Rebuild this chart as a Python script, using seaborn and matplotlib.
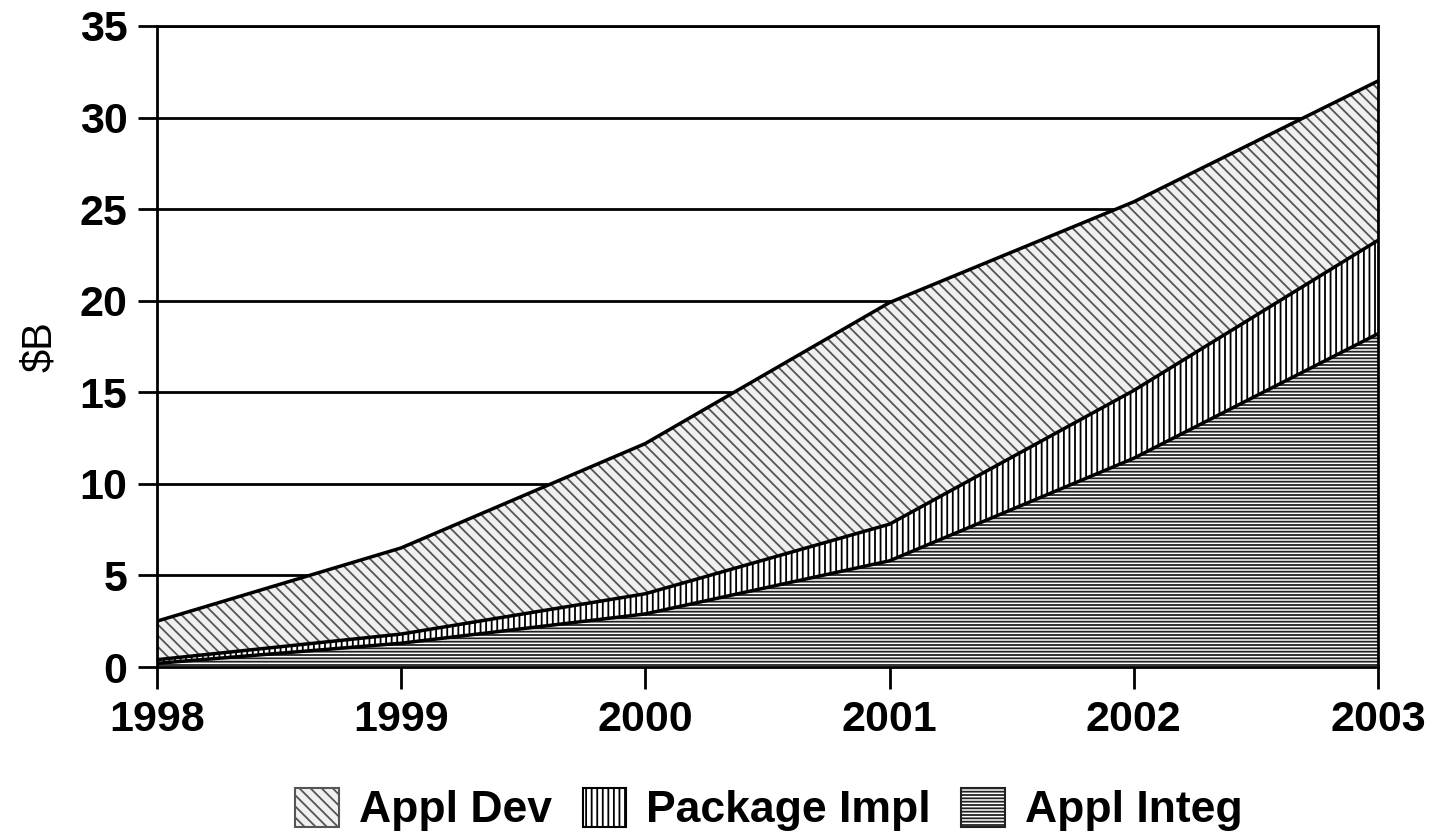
import matplotlib
matplotlib.use("Agg")
import matplotlib.pyplot as plt
import seaborn as sns
import pandas as pd
import numpy as np
from matplotlib.patches import Patch

# ── data ($B) ────────────────────────────────────────────────────────────────
years = [1998, 1999, 2000, 2001, 2002, 2003]
appl_integ = [0.2, 1.3, 2.9, 5.8, 11.4, 18.2]
package_impl = [0.2, 0.5, 1.1, 2.0, 3.7, 5.1]
appl_dev = [2.1, 4.7, 8.2, 12.1, 10.3, 8.7]
series_names = ["Appl Integ", "Package Impl", "Appl Dev"]
legend_order = ["Appl Dev", "Package Impl", "Appl Integ"]
y_ticks = [0, 5, 10, 15, 20, 25, 30, 35]

sns.set_theme(style="white")
plt.rcParams["font.family"] = ["Liberation Sans", "DejaVu Sans"]
plt.rcParams["hatch.linewidth"] = 1.3
for key in ["text.color", "axes.labelcolor", "xtick.color", "ytick.color"]:
    plt.rcParams[key] = "black"

df = pd.DataFrame({"year": years, "Appl Integ": appl_integ,
                   "Package Impl": package_impl, "Appl Dev": appl_dev})
cum = df[series_names].cumsum(axis=1)

styles = {
    "Appl Integ":   dict(face="white",   hatch_col="#222222", hatch="-----"),
    "Package Impl": dict(face="white",   hatch_col="#000000", hatch="|||"),
    "Appl Dev":     dict(face="#f0f0f0", hatch_col="#555555", hatch="\\\\\\"),
}

fig = plt.figure(figsize=(14.37, 8.38), dpi=100)
ax = fig.add_axes([0.109, 0.204, 0.850, 0.765])

# grid first so the areas cover it
for yv in y_ticks:
    ax.axhline(yv, color="black", lw=2, zorder=0)

lower = np.zeros(len(years))
for name in series_names:
    upper = cum[name].values
    st = styles[name]
    ax.fill_between(df["year"], lower, upper, facecolor=st["face"],
                    edgecolor=st["hatch_col"], hatch=st["hatch"], lw=0, zorder=1)
    lower = upper

# boundary lines
for name in series_names:
    sns.lineplot(x=df["year"], y=cum[name], ax=ax, color="black", lw=2.5,
                 zorder=3, legend=False)

ax.set_xlim(1998, 2003)
ax.set_ylim(0, 35)
ax.set_xticks(years)
ax.set_yticks(y_ticks)
ax.set_xticklabels([str(y) for y in years], fontsize=31, fontweight="bold")
ax.set_yticklabels([str(y) for y in y_ticks], fontsize=31, fontweight="bold")
ax.tick_params(axis="x", direction="out", length=16, width=2, pad=8,
               bottom=True)
ax.tick_params(axis="y", direction="out", length=14, width=2, pad=7,
               left=True)
ax.set_xlabel("")
ax.set_ylabel("$B", fontsize=30, labelpad=14)
for sp in ax.spines.values():
    sp.set_color("black")
    sp.set_linewidth(2)
    sp.set_zorder(4)

handles = [Patch(facecolor=styles[n]["face"], edgecolor=styles[n]["hatch_col"],
                 hatch=styles[n]["hatch"], lw=1.5) for n in legend_order]
fig.legend(handles, legend_order, loc="center",
           bbox_to_anchor=(0.535, 0.034), ncol=3, frameon=False,
           prop=dict(size=32, weight="bold"), handlelength=0.97,
           handleheight=0.97, handletextpad=0.45, columnspacing=0.7)

fig.savefig("out.png", dpi=100)
